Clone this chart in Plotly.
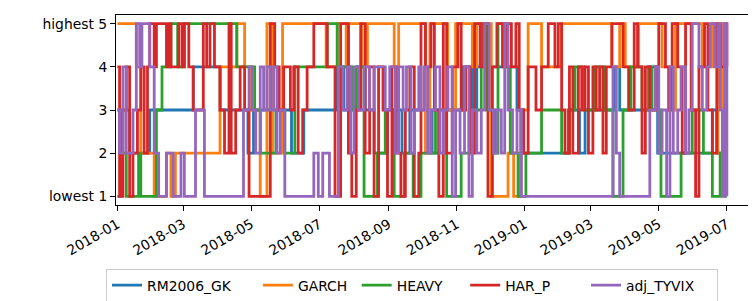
import pandas as pd
import plotly.graph_objects as go

start = pd.Timestamp("2018-01-01")

# Rank change points: day offset from 2018-01-01 and rank (1 = lowest, 5 = highest)
rm_days = [0,3,11,29,68,92,117,122,156,167,197,203,215,222,230,242,255,262,282,288,310,318,322,358,364,404,414,419,446,450,476,484,533,537,544,546]
rm_rank = [1,3,2,3,4,3,2,3,2,3,4,3,4,3,2,3,2,3,2,3,4,3,4,3,2,3,2,3,4,3,4,2,3,2,3,3]

garch_days = [0,17,21,33,44,48,52,92,107,114,120,128,134,139,148,187,197,205,207,219,224,248,252,276,280,296,303,318,322,335,350,355,361,368,380,398,443,450,455,467,488,494,500,524,533,538,542,546]
garch_rank = [5,4,2,1,2,1,2,4,5,4,3,1,5,2,5,4,5,4,5,4,5,4,5,2,5,3,5,4,5,1,2,1,3,5,4,5,4,5,4,5,4,3,5,4,5,2,4,4]

heavy_days = [0,2,8,19,21,35,40,48,54,60,65,107,123,128,134,142,150,159,188,197,203,210,214,221,233,240,248,257,265,272,285,295,308,315,326,331,338,341,347,352,359,366,380,398,405,410,418,428,436,444,453,460,470,476,479,487,505,515,525,533,540,544,546]
heavy_rank = [3,2,1,2,1,3,4,5,4,5,5,4,3,2,2,3,2,4,5,4,4,3,4,1,2,3,1,2,1,2,3,1,2,3,5,3,2,5,4,2,1,2,3,2,3,4,3,4,3,1,3,4,3,4,3,1,2,3,2,1,2,1,1]

harp_days = [0,2,5,8,11,14,18,21,24,27,29,33,35,44,46,48,55,58,60,64,
             68,77,80,83,87,92,96,100,102,106,110,114,118,
             137,141,145,149,155,158,162,166,170,176,188,195,200,
             207,210,214,218,222,226,230,234,238,242,246,250,254,258,262,266,270,
             272,276,281,284,288,292,295,300,305,308,312,316,320,325,328,332,336,340,
             345,348,353,357,360,364,368,375,380,386,392,395,398,401,405,408,
             413,416,419,422,426,429,432,435,438,443,453,458,463,466,470,473,477,
             482,485,491,494,497,502,506,509,514,518,521,526,529,533,537,541,544,546]
harp_rank = [4,1,3,4,1,2,3,4,2,4,5,4,5,4,5,4,5,4,5,4,
             3,5,4,5,4,3,2,5,2,3,4,3,1,
             5,4,3,4,3,4,2,3,4,5,4,1,5,
             2,1,3,5,2,4,1,4,3,1,4,2,1,3,4,1,2,
             5,4,5,3,1,5,2,4,5,3,4,2,5,4,5,1,4,5,
             4,5,4,5,3,2,4,3,4,5,4,5,3,2,4,2,
             4,3,4,2,4,3,4,2,4,5,4,3,5,4,2,4,3,
             4,5,4,3,5,4,2,5,3,1,4,5,3,2,5,4,5,4]

tyvix_days = [0,2,5,8,14,17,20,22,29,33,37,44,50,57,60,
              70,78,113,118,121,124,128,131,
              134,137,140,143,146,150,176,180,184,190,198,202,
              206,209,212,216,221,226,230,240,244,249,252,256,259,263,266,270,
              272,275,278,281,285,289,292,296,300,303,307,311,315,318,322,326,329,333,337,340,
              344,347,350,354,358,362,
              444,447,450,477,
              482,485,488,492,495,498,502,505,509,512,515,521,524,528,531,535,538,540,542,544,546]
tyvix_rank = [3,2,4,2,3,5,4,5,4,2,1,2,1,2,1,
              3,1,3,4,3,2,4,3,
              4,3,4,2,3,1,2,1,2,1,4,3,
              4,2,4,3,4,3,4,3,4,2,4,3,4,2,3,4,
              3,4,2,3,4,2,3,4,1,3,2,4,1,3,2,3,5,3,2,3,
              2,5,3,2,3,1,
              4,2,1,3,
              4,2,3,1,4,2,3,4,2,3,5,4,3,4,5,4,5,3,1,5,1]

names = ["RM2006_GK", "GARCH", "HEAVY", "HAR_P", "adj_TYVIX"]
colors = ["#1f77b4", "#ff7f0e", "#2ca02c", "#d62728", "#9467bd"]
series = [(rm_days, rm_rank), (garch_days, garch_rank), (heavy_days, heavy_rank),
          (harp_days, harp_rank), (tyvix_days, tyvix_rank)]

rank_ticks = [1, 2, 3, 4, 5]
rank_labels = ["lowest 1", "2", "3", "4", "highest 5"]

FONT = "DejaVu Sans"
FS = 13.9
NB = "\u00a0"
pad = [5, 1, 4, 7, 4]  # legend column spacing (non-breaking spaces)

fig = go.Figure()
for name, color, (d, r), p in zip(names, colors, series, pad):
    x = [start + pd.Timedelta(days=int(v)) for v in d]
    fig.add_trace(go.Scatter(x=x, y=r, mode="lines", name=name + NB * p, line_shape="hv",
                             line=dict(color=color, width=2.8)))

fig.update_layout(
    width=756, height=301,
    margin=dict(l=108, r=7, t=7, b=98),
    paper_bgcolor="white", plot_bgcolor="white",
    font=dict(family=FONT, size=FS, color="black"),
    showlegend=True,
    legend=dict(orientation="h", x=-0.0156, y=-0.335, xanchor="left", yanchor="top",
                bordercolor="#cccccc", borderwidth=1, font=dict(size=FS)),
)
fig.update_xaxes(
    range=[pd.Timestamp("2017-12-30 19:00"), pd.Timestamp("2019-07-28")],
    tickvals=[pd.Timestamp(s) for s in ["2018-01-01","2018-03-01","2018-05-01","2018-07-01",
                                         "2018-09-01","2018-11-01","2019-01-01","2019-03-01",
                                         "2019-05-01","2019-07-01"]],
    tickformat="%Y-%m", tickangle=-30,
    showgrid=False, zeroline=False, showline=True, mirror=True,
    linecolor="black", linewidth=1, ticks="outside", ticklen=5, tickwidth=1, tickcolor="black",
)
fig.update_yaxes(
    range=[0.8, 5.2], tickvals=rank_ticks, ticktext=rank_labels,
    showgrid=False, zeroline=False, showline=True, mirror=True,
    linecolor="black", linewidth=1, ticks="outside", ticklen=5, tickwidth=1, tickcolor="black",
)

fig.write_html("out.html")
